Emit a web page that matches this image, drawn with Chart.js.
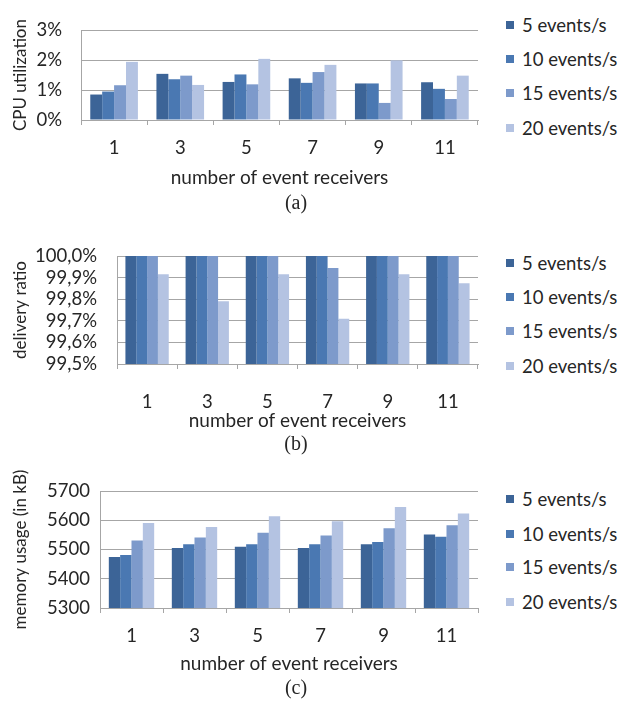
<!DOCTYPE html>
<html>
<head>
<meta charset="utf-8">
<script src="https://cdn.jsdelivr.net/npm/chart.js@4.4.0/dist/chart.umd.min.js"></script>
<style>
  html, body { margin: 0; padding: 0; background: #fff; }
  #page { position: relative; width: 632px; height: 703px; overflow: hidden; font-family: Lato, sans-serif; color: #262626; }
  canvas.panel { position: absolute; left: 0; }
  .item { position: absolute; left: 506px; white-space: nowrap; font-size: 18.5px; line-height: 20px; height: 20px; }
  .item .box { position: absolute; left: 0; top: 6px; width: 8px; height: 8px; }
  .item .txt { position: absolute; left: 16px; top: 0; }
  .caption { position: absolute; font-family: "Liberation Serif", serif; font-size: 20px; transform: translate(-50%, -50%); white-space: nowrap; }
</style>
</head>
<body>
<div id="page">
  <canvas id="chart-a" class="panel" width="490" height="200" style="top:0px"></canvas>
  <canvas id="chart-b" class="panel" width="490" height="215" style="top:220px"></canvas>
  <canvas id="chart-c" class="panel" width="490" height="230" style="top:450px"></canvas>
</div>
<script>
// categories / series
const receivers = ['1', '3', '5', '7', '9', '11']
const seriesNames = ['5 events/s', '10 events/s', '15 events/s', '20 events/s']
const seriesColors = ['#3c6497', '#4a78b2', '#7d9acb', '#b4c3e2']

// (a) CPU utilization, in %
const cpu5 = [0.85, 1.54, 1.27, 1.39, 1.22, 1.26]
const cpu10 = [0.95, 1.36, 1.52, 1.24, 1.22, 1.04]
const cpu15 = [1.16, 1.48, 1.19, 1.60, 0.57, 0.70]
const cpu20 = [1.94, 1.17, 2.04, 1.84, 1.99, 1.48]
const cpuTicks = [0, 1, 2, 3]

// (b) delivery ratio, in %
const ratio5 = [100, 100, 100, 100, 100, 100]
const ratio10 = [100, 100, 100, 100, 100, 100]
const ratio15 = [100, 100, 100, 99.945, 100, 100]
const ratio20 = [99.915, 99.79, 99.915, 99.71, 99.915, 99.874]
const ratioTicks = [99.5, 99.6, 99.7, 99.8, 99.9, 100]

// (c) memory usage, in kB
const mem5 = [5474, 5505, 5509, 5505, 5518, 5551]
const mem10 = [5481, 5518, 5518, 5518, 5526, 5544]
const mem15 = [5531, 5541, 5557, 5548, 5573, 5583]
const mem20 = [5591, 5577, 5614, 5597, 5645, 5623]
const memTicks = [5300, 5400, 5500, 5600, 5700]

const xTitle = 'number of event receivers'

const gridColor = '#a6a6a6'
const textColor = '#262626'
const font = { family: 'Lato', size: 18.5 }

function makePanel(p) {
    const canvas = document.getElementById(p.id)
    const top = parseInt(canvas.style.top)
    const h = canvas.height
    return new Chart(canvas, {
        type: 'bar',
        data: {
            labels: receivers,
            datasets: p.series.map((data, i) => ({
                label: seriesNames[i],
                data: data,
                backgroundColor: seriesColors[i],
                borderWidth: 0,
                categoryPercentage: 0.72,
                barPercentage: 1
            }))
        },
        options: {
            responsive: false,
            animation: false,
            devicePixelRatio: 1,
            layout: { padding: { top: p.plotTop - top, right: 12, left: 0, bottom: 0 } },
            plugins: { legend: { display: false }, tooltip: { enabled: false } },
            scales: {
                x: {
                    afterFit: scale => { scale.height = h - (p.plotBottom - top) },
                    grid: { offset: true, drawOnChartArea: false, drawTicks: true, tickLength: 5, color: gridColor },
                    border: { display: true, color: gridColor },
                    ticks: { color: textColor, font: font, padding: p.labelPad, maxRotation: 0, autoSkip: false },
                    title: { display: true, text: xTitle, color: textColor, font: { family: 'Lato', size: 19 }, padding: { top: 0, bottom: p.titlePad } }
                },
                y: {
                    min: p.ticks[0],
                    max: p.ticks[p.ticks.length - 1],
                    afterFit: scale => { scale.width = p.plotLeft },
                    afterBuildTicks: scale => { scale.ticks = p.ticks.map(v => ({ value: v })) },
                    grid: { drawTicks: false, color: gridColor },
                    border: { display: true, color: gridColor },
                    ticks: { autoSkip: false, color: textColor, font: font, padding: p.yPad, callback: p.fmt },
                    title: { display: true, text: p.yTitle, color: textColor, font: { family: 'Lato', size: 17 }, padding: { top: 10, bottom: 0 } }
                }
            }
        }
    })
}

makePanel({
    id: 'chart-a', series: [cpu5, cpu10, cpu15, cpu20], ticks: cpuTicks,
    plotLeft: 81, plotTop: 17, plotBottom: 120, labelPad: 12, titlePad: 11, yPad: 19,
    fmt: v => v + '%', yTitle: 'CPU utilization'
})
makePanel({
    id: 'chart-b', series: [ratio5, ratio10, ratio15, ratio20], ticks: ratioTicks,
    plotLeft: 117, plotTop: 256, plotBottom: 364, labelPad: 22, titlePad: 3, yPad: 20,
    fmt: v => v.toFixed(1).replace('.', ',') + '%', yTitle: 'delivery ratio'
})
makePanel({
    id: 'chart-c', series: [mem5, mem10, mem15, mem20], ticks: memTicks,
    plotLeft: 100, plotTop: 491, plotBottom: 608, labelPad: 12, titlePad: 5, yPad: 10,
    fmt: v => String(v), yTitle: 'memory usage (in kB)'
})

// legends + captions
const page = document.getElementById('page')
const legendRows = [[24.5, 59, 93, 127.5], [263, 297, 331, 366], [499, 534, 567, 602]]
legendRows.forEach(rows => {
    rows.forEach((cy, i) => {
        const item = document.createElement('div')
        item.className = 'item'
        item.style.top = (cy - 10) + 'px'
        item.innerHTML = `<span class="box" style="background:${seriesColors[i]}"></span><span class="txt">${seriesNames[i]}</span>`
        page.appendChild(item)
    })
})
const captions = [['(a)', 202], ['(b)', 443], ['(c)', 687]]
captions.forEach(([text, cy]) => {
    const c = document.createElement('div')
    c.className = 'caption'
    c.style.left = '296px'
    c.style.top = cy + 'px'
    c.innerText = text
    page.appendChild(c)
})
</script>
</body>
</html>
